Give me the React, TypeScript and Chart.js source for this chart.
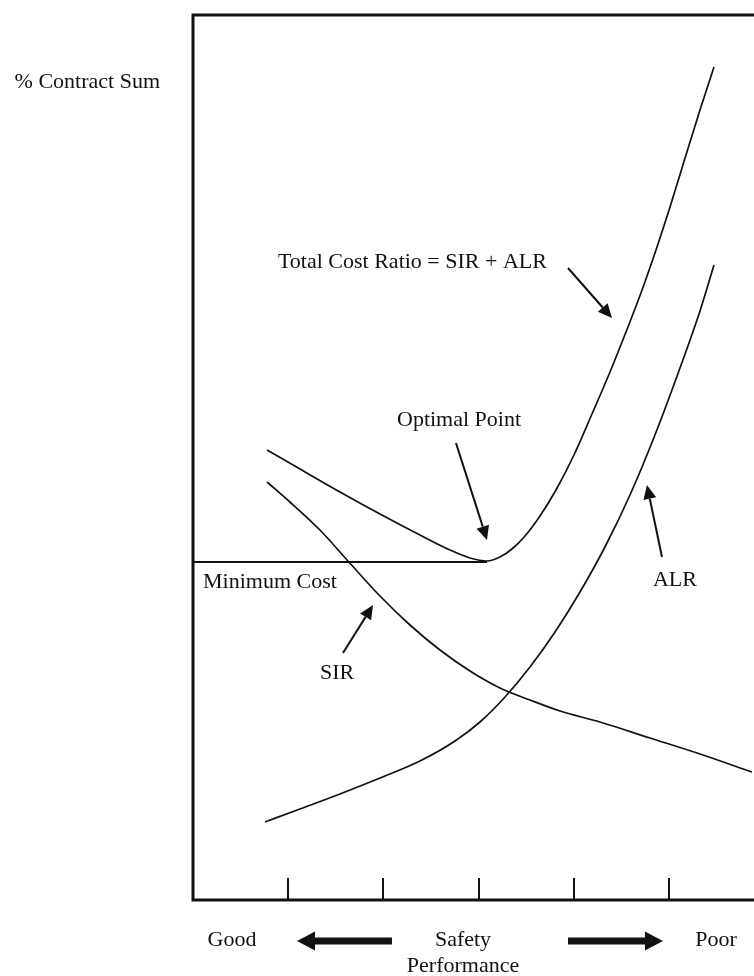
import React, { useEffect, useRef } from "react";
import { Chart, registerables } from "chart.js";

Chart.register(...registerables);

// Tick marks along the Safety Performance axis
const tickPositions = [1, 2, 3, 4, 5];

// Total Cost Ratio = SIR + ALR
const totalX = [0.777, 1.123, 1.543, 1.963, 2.383, 2.698, 2.908, 3.087, 3.223, 3.349, 3.486, 3.643, 3.811, 4.0, 4.189, 4.378, 4.546, 4.703, 4.861, 5.018, 5.176, 5.323, 5.47];
const totalY = [45.0, 43.1, 40.8, 38.6, 36.5, 35.0, 34.2, 33.9, 34.3, 35.1, 36.4, 38.4, 41.0, 44.5, 48.6, 52.8, 56.8, 60.7, 65.0, 69.6, 74.5, 79.0, 83.3];

// ALR curve
const alrX = [0.756, 1.123, 1.543, 1.963, 2.383, 2.751, 3.013, 3.276, 3.538, 3.801, 4.063, 4.325, 4.588, 4.85, 5.113, 5.323, 5.47];
const alrY = [7.8, 9.1, 10.6, 12.2, 13.9, 15.9, 17.8, 20.3, 23.3, 26.8, 30.8, 35.3, 40.5, 46.5, 53.2, 58.9, 63.5];

// SIR curve
const sirX = [0.777, 1.018, 1.333, 1.627, 1.963, 2.278, 2.593, 2.908, 3.223, 3.538, 3.853, 4.273, 4.798, 5.323, 5.869];
const sirY = [41.8, 39.8, 37.0, 33.9, 30.4, 27.5, 25.0, 22.9, 21.2, 20.0, 18.9, 17.8, 16.2, 14.6, 12.8];

// Minimum cost level
const minCostX = [0, 3.087];
const minCostY = [33.8, 33.8];

// Text annotations (data coordinates)
const noteTexts = ["% Contract Sum", "Total Cost Ratio = SIR + ALR", "Optimal Point", "Minimum Cost", "SIR", "ALR", "Good", "Safety", "Performance", "Poor"];
const noteX = [-0.346, 0.892, 2.793, 0.105, 1.512, 5.06, 0.409, 2.835, 2.835, 5.491];
const noteY = [81.8, 63.8, 48.0, 31.8, 22.7, 32.0, -4.0, -4.0, -6.6, -4.0];
const noteAlign = ["right", "left", "center", "left", "center", "center", "center", "center", "center", "center"];

// Pointer arrows (from -> to, data coordinates)
const pointerFromX = [3.937, 2.761, 1.575, 4.924];
const pointerFromY = [63.2, 45.7, 24.7, 34.3];
const pointerToX = [4.399, 3.087, 1.89, 4.766];
const pointerToY = [58.2, 36.0, 29.5, 41.5];

// Block arrows under the axis (tail -> tip)
const blockTailX = [2.089, 3.937];
const blockTipX = [1.092, 4.934];
const blockY = [-4.1, -4.1];

const FONT = "22px 'Liberation Serif', 'Times New Roman', serif";
const INK = "#111111";

const overlayPlugin = {
  id: "overlay",
  afterDatasetsDraw(chart: any) {
    const { ctx, chartArea: a, scales } = chart;
    const px = (v: number) => scales.x.getPixelForValue(v);
    const py = (v: number) => scales.y.getPixelForValue(v);
    ctx.save();

    // frame: left, top, bottom
    ctx.strokeStyle = INK;
    ctx.lineWidth = 3;
    ctx.beginPath();
    ctx.moveTo(a.right + 4, a.top);
    ctx.lineTo(a.left, a.top);
    ctx.lineTo(a.left, a.bottom);
    ctx.lineTo(a.right + 4, a.bottom);
    ctx.stroke();

    // inward tick marks
    ctx.lineWidth = 2;
    tickPositions.forEach((t) => {
      const x = Math.round(px(t));
      ctx.beginPath();
      ctx.moveTo(x, a.bottom);
      ctx.lineTo(x, a.bottom - 22);
      ctx.stroke();
    });

    // pointer arrows
    ctx.fillStyle = INK;
    ctx.lineWidth = 2;
    pointerFromX.forEach((_, i) => {
      const x0 = px(pointerFromX[i]);
      const y0 = py(pointerFromY[i]);
      const x1 = px(pointerToX[i]);
      const y1 = py(pointerToY[i]);
      const ang = Math.atan2(y1 - y0, x1 - x0);
      const hl = 14;
      const hw = 6.5;
      const bx = x1 - hl * Math.cos(ang);
      const by = y1 - hl * Math.sin(ang);
      ctx.beginPath();
      ctx.moveTo(x0, y0);
      ctx.lineTo(bx, by);
      ctx.stroke();
      ctx.beginPath();
      ctx.moveTo(x1, y1);
      ctx.lineTo(bx + hw * Math.sin(ang), by - hw * Math.cos(ang));
      ctx.lineTo(bx - hw * Math.sin(ang), by + hw * Math.cos(ang));
      ctx.closePath();
      ctx.fill();
    });

    // block arrows
    blockTailX.forEach((_, i) => {
      const xt = px(blockTailX[i]);
      const xh = px(blockTipX[i]);
      const y = py(blockY[i]);
      const dir = Math.sign(xh - xt);
      const headLen = 18;
      const shaft = 3.5;
      const headH = 9.5;
      const xb = xh - dir * headLen;
      ctx.beginPath();
      ctx.moveTo(xt, y - shaft);
      ctx.lineTo(xb, y - shaft);
      ctx.lineTo(xb, y - headH);
      ctx.lineTo(xh, y);
      ctx.lineTo(xb, y + headH);
      ctx.lineTo(xb, y + shaft);
      ctx.lineTo(xt, y + shaft);
      ctx.closePath();
      ctx.fill();
    });

    // texts
    ctx.font = FONT;
    ctx.textBaseline = "middle";
    noteTexts.forEach((txt, i) => {
      ctx.textAlign = noteAlign[i];
      ctx.fillText(txt, px(noteX[i]), py(noteY[i]));
    });

    ctx.restore();
  },
};

function series(xs: number[], ys: number[]) {
  return xs.map((x, i) => ({ x, y: ys[i] }));
}

export default function App() {
  const canvasRef = useRef<HTMLCanvasElement | null>(null);

  useEffect(() => {
    const canvas = canvasRef.current;
    if (!canvas) return;
    const lineStyle = {
      showLine: true,
      pointRadius: 0,
      borderColor: INK,
      borderWidth: 1.7,
      fill: false,
      cubicInterpolationMode: "monotone" as const,
    };
    const chart = new Chart(canvas, {
      type: "scatter",
      data: {
        datasets: [
          { label: "Total Cost Ratio", data: series(totalX, totalY), ...lineStyle },
          { label: "ALR", data: series(alrX, alrY), ...lineStyle },
          { label: "SIR", data: series(sirX, sirY), ...lineStyle },
          { label: "Minimum Cost", data: series(minCostX, minCostY), ...lineStyle, borderWidth: 2.2, cubicInterpolationMode: "default" as const },
        ],
      },
      options: {
        animation: false,
        responsive: false,
        devicePixelRatio: 1,
        layout: { padding: { left: 193, top: 15, right: 0, bottom: 76 } },
        scales: {
          x: { type: "linear", min: 0, max: 5.89, display: false },
          y: { type: "linear", min: 0, max: 88.5, display: false },
        },
        plugins: {
          legend: { display: false },
          tooltip: { enabled: false },
        },
      },
      plugins: [overlayPlugin],
    });
    return () => chart.destroy();
  }, []);

  return (
    <div style={{ position: "absolute", left: 0, top: 0, width: 754, height: 976, background: "#ffffff" }}>
      <canvas ref={canvasRef} width={754} height={976} style={{ display: "block", width: 754, height: 976 }} />
    </div>
  );
}
